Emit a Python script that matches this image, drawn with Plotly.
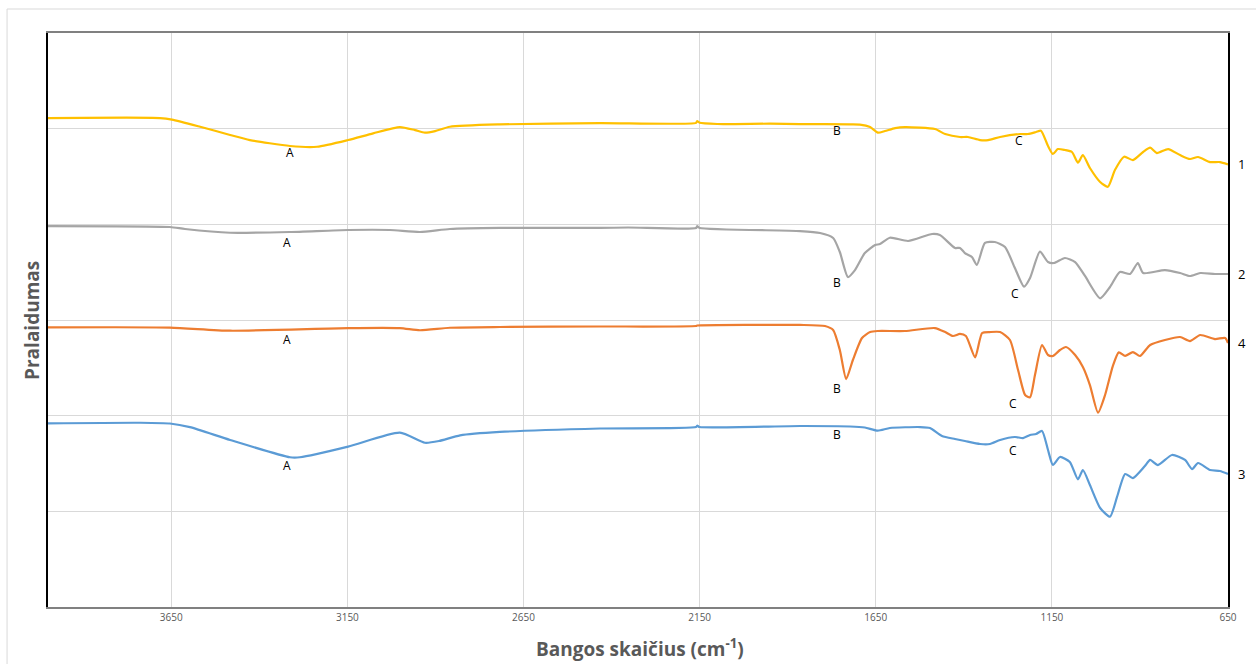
import plotly.graph_objects as go

# ---- data (wavenumber cm-1, transmittance offset units) ----
x1 = [4000, 3682, 3648, 3568, 3483, 3427, 3313, 3236, 3148, 3077, 3001, 2958, 2930, 2901, 2859, 2717, 2433, 2160, 2157, 2150,
      2100, 1950, 1865, 1723, 1695, 1666, 1644, 1624, 1595, 1567, 1482, 1453, 1411, 1388, 1354, 1331, 1297, 1240, 1218, 1195, 1181,
      1161, 1147, 1133, 1113, 1093, 1076, 1062, 1042, 1013, 991, 971, 945, 920, 891, 871, 852, 820, 786, 758, 735, 701, 673, 650]
y1 = [5.111, 5.111, 5.095, 5.020, 4.934, 4.881, 4.819, 4.811, 4.881, 4.951, 5.017, 4.985, 4.958, 4.975, 5.020, 5.045, 5.058, 5.061, 5.080, 5.061,
      5.049, 5.052, 5.048, 5.045, 5.043, 5.017, 4.958, 4.975, 5.006, 5.017, 4.996, 4.944, 4.913, 4.913, 4.881, 4.881, 4.913, 4.944, 4.944, 4.965, 4.979,
      4.819, 4.735, 4.787, 4.777, 4.756, 4.644, 4.724, 4.589, 4.443, 4.393, 4.568, 4.707, 4.672, 4.756, 4.801, 4.745, 4.787, 4.724, 4.683, 4.704, 4.651, 4.651, 4.627]

x2 = [4000, 3654, 3611, 3483, 3313, 3148, 3029, 2944, 2859, 2717, 2433, 2353, 2160, 2157, 2150,
      1865, 1808, 1771, 1752, 1729, 1709, 1681, 1652, 1638, 1610, 1558, 1490, 1468, 1425, 1411, 1397, 1377, 1363, 1340,
      1312, 1283, 1255, 1229, 1212, 1184, 1161, 1144, 1113, 1084, 1056, 1013, 985, 957, 928, 906, 891, 829, 786, 758, 729, 687, 650]
y2 = [3.982, 3.972, 3.951, 3.912, 3.920, 3.941, 3.941, 3.920, 3.951, 3.962, 3.962, 3.967, 3.962, 3.982, 3.962,
      3.930, 3.909, 3.857, 3.711, 3.449, 3.522, 3.700, 3.784, 3.794, 3.860, 3.826, 3.899, 3.888, 3.753, 3.753, 3.700, 3.658, 3.575, 3.805,
      3.815, 3.763, 3.543, 3.348, 3.439, 3.714, 3.606, 3.596, 3.648, 3.606, 3.460, 3.227, 3.345, 3.502, 3.481, 3.596, 3.491, 3.522, 3.491, 3.460, 3.491, 3.481, 3.481]

x4 = [4000, 3654, 3483, 3148, 3001, 2944, 2859, 2717, 2433, 2160, 2157,
      1865, 1794, 1771, 1752, 1734, 1715, 1689, 1666, 1644, 1567, 1482, 1453, 1431, 1411, 1394, 1368, 1348, 1326, 1297,
      1269, 1246, 1226, 1212, 1198, 1178, 1161, 1147, 1127, 1110, 1084, 1062, 1042, 1019, 999, 977, 960, 942, 920, 900,
      871, 829, 786, 758, 729, 687, 658, 650]
y4 = [2.923, 2.921, 2.888, 2.916, 2.916, 2.893, 2.919, 2.927, 2.932, 2.937, 2.942,
      2.948, 2.937, 2.895, 2.686, 2.383, 2.582, 2.812, 2.874, 2.885, 2.885, 2.916, 2.874, 2.833, 2.854, 2.833, 2.610, 2.864, 2.874, 2.874,
      2.791, 2.477, 2.216, 2.192, 2.425, 2.739, 2.634, 2.624, 2.686, 2.718, 2.634, 2.509, 2.320, 2.031, 2.216, 2.519, 2.662, 2.624, 2.665, 2.624,
      2.739, 2.791, 2.822, 2.780, 2.843, 2.801, 2.812, 2.759]

x3 = [4000, 3739, 3654, 3597, 3483, 3313, 3285, 3148, 3001, 2930, 2890, 2830, 2717, 2433, 2160, 2157, 2150,
      1865, 1723, 1681, 1644, 1610, 1524, 1496, 1462, 1425, 1397, 1354, 1326, 1297, 1255, 1232, 1212, 1195, 1178,
      1161, 1147, 1127, 1099, 1076, 1062, 1042, 1013, 985, 965, 942, 920, 886, 871, 849, 809, 772, 752, 735, 701, 673, 650]
y3 = [1.920, 1.926, 1.918, 1.880, 1.746, 1.565, 1.565, 1.676, 1.822, 1.717, 1.735, 1.794, 1.830, 1.866, 1.881, 1.895, 1.881,
      1.892, 1.887, 1.876, 1.843, 1.871, 1.881, 1.871, 1.787, 1.756, 1.735, 1.704, 1.704, 1.746, 1.777, 1.766, 1.798, 1.808, 1.840,
      1.641, 1.484, 1.568, 1.516, 1.335, 1.432, 1.275, 1.035, 0.944, 1.150, 1.390, 1.348, 1.474, 1.537, 1.484, 1.589, 1.537, 1.442, 1.505, 1.432, 1.422, 1.390]

series_names = ["1", "2", "4", "3"]
series_colors = ["#FFC000", "#A5A5A5", "#ED7D31", "#5B9BD5"]

# band-label annotations (letter, wavenumber, value)
band_letters = ["A", "B", "C", "A", "B", "C", "A", "B", "C", "A", "B", "C"]
band_x = [3313, 1760, 1243, 3321, 1760, 1255, 3321, 1760, 1260, 3321, 1760, 1260]
band_y = [4.756, 4.986, 4.881, 3.815, 3.387, 3.282, 2.801, 2.279, 2.132, 1.484, 1.808, 1.641]

x_ticks = [3650, 3150, 2650, 2150, 1650, 1150, 650]

FONT = "'Open Sans', 'Noto Sans', sans-serif"

fig = go.Figure()
for xs, ys, nm, col in zip([x1, x2, x4, x3], [y1, y2, y4, y3], series_names, series_colors):
    fig.add_trace(go.Scatter(x=xs, y=ys, mode="lines", name=nm,
                             line=dict(color=col, width=2.2, shape="spline", smoothing=0.6),
                             showlegend=False, hoverinfo="skip"))
    fig.add_annotation(x=xs[-1], y=ys[-1], text=nm, showarrow=False, xanchor="left",
                       xshift=8, font=dict(size=13, color="#000000", family=FONT))

for t, bx, by in zip(band_letters, band_x, band_y):
    fig.add_annotation(x=bx, y=by, text=t, showarrow=False,
                       font=dict(size=12, color="#000000", family=FONT))

fig.add_annotation(xref="paper", yref="paper", x=-0.0136, y=0.5, xanchor="center", yanchor="middle",
                   text="<b>Pralaidumas</b>", textangle=-90, showarrow=False,
                   font=dict(size=19, color="#595959", family=FONT))
fig.add_annotation(xref="paper", yref="paper", x=0.5017, y=-0.071, xanchor="center", yanchor="middle",
                   text="<b>Bangos skaičius (cm<sup>-1</sup>)</b>", showarrow=False,
                   font=dict(size=19, color="#595959", family=FONT))

fig.add_shape(type="rect", xref="paper", yref="paper", x0=-0.0347, y0=-0.2, x1=1.06, y1=1.0418,
              line=dict(color="#D9D9D9", width=1), layer="below")

fig.update_layout(
    width=1256, height=664,
    margin=dict(l=48, r=28, t=33, b=57),
    paper_bgcolor="white", plot_bgcolor="white",
    font=dict(family=FONT),
    xaxis=dict(range=[4000, 650], tickvals=x_ticks, ticktext=[str(v) for v in x_ticks],
               showgrid=True, gridcolor="#D9D9D9", gridwidth=1, zeroline=False,
               showline=True, linecolor="#808080", linewidth=2, mirror=True,
               tickfont=dict(size=10, color="#595959", family="'Liberation Sans Narrow', 'Open Sans', sans-serif"),
               ticks=""),
    yaxis=dict(range=[0, 6], tickvals=[1, 2, 3, 4, 5], showticklabels=False,
               showgrid=True, gridcolor="#D9D9D9", gridwidth=1, zeroline=False,
               showline=True, linecolor="#000000", linewidth=1.5, mirror=True, ticks=""),
)

fig.write_html("out.html", config={"displayModeBar": False},
               post_script="document.body.style.margin='0';document.body.style.overflow='hidden';")
